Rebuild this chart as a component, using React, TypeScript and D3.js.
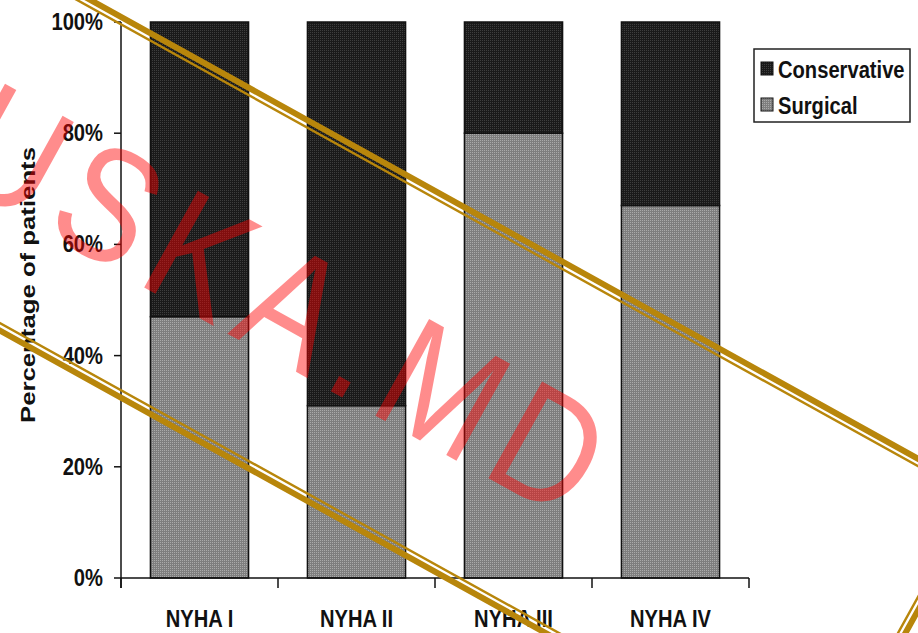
import React from "react";
import * as d3 from "d3";

const categories = ["NYHA I", "NYHA II", "NYHA III", "NYHA IV"];
const surgical = [47, 31, 80, 67];
const conservative = [53, 69, 20, 33];
const yTicks = [0, 20, 40, 60, 80, 100];
const seriesKeys = ["Surgical", "Conservative"];
const legendLabels = ["Conservative", "Surgical"];

const W = 918;
const H = 633;
const M = { left: 121, right: 749, top: 22, bottom: 578 };

export default function App() {
  const rows = categories.map((c, i) => ({ cat: c, Surgical: surgical[i], Conservative: conservative[i] }));
  const stack = d3.stack<any>().keys(seriesKeys)(rows);
  const x = d3.scaleBand<string>().domain(categories).range([M.left, M.right]).paddingInner(0.375).paddingOuter(0.1875);
  const y = d3.scaleLinear().domain([0, 100]).range([M.bottom, M.top]);
  const fills: Record<string, string> = { Surgical: "url(#patS)", Conservative: "url(#patC)" };
  const step = x.step();
  const boundaries = d3.range(categories.length + 1).map((i) => M.left + i * step);
  const font = "'Liberation Sans', Arial, Helvetica, sans-serif";
  const gold = "#b8860b";

  return (
    <svg width={W} height={H} style={{ position: "absolute", left: 0, top: 0, background: "#fff" }} fontFamily={font}>
      <defs>
        <pattern id="patC" width={2} height={2} patternUnits="userSpaceOnUse">
          <rect width={2} height={2} fill="#1a1a1a" />
          <rect width={1} height={1} fill="#3e3e3e" />
        </pattern>
        <pattern id="patS" width={2} height={2} patternUnits="userSpaceOnUse">
          <rect width={2} height={2} fill="#7e7e7e" />
          <rect width={1} height={1} fill="#aaaaaa" />
        </pattern>
      </defs>
      <rect width={W} height={H} fill="#fff" />

      {/* bars */}
      {stack.map((s) => (
        <g key={s.key}>
          {s.map((d, i) => (
            <rect
              key={i}
              x={x(categories[i])}
              y={y(d[1])}
              width={x.bandwidth()}
              height={y(d[0]) - y(d[1])}
              fill={fills[s.key]}
              stroke="#111"
              strokeWidth={1.5}
            />
          ))}
        </g>
      ))}

      {/* y axis */}
      <line x1={M.left} x2={M.left} y1={M.top} y2={M.bottom + 10} stroke="#111" strokeWidth={1.5} />
      {yTicks.map((t) => (
        <g key={t}>
          <line x1={M.left - 7} x2={M.left} y1={y(t)} y2={y(t)} stroke="#111" strokeWidth={1.5} />
          <text
            transform={`translate(103,${y(t) + 8}) scale(0.84,1)`}
            textAnchor="end"
            fontSize={24}
            fontWeight="bold"
            fill="#111"
          >
            {t}%
          </text>
        </g>
      ))}

      {/* x axis */}
      <line x1={M.left} x2={M.right} y1={M.bottom} y2={M.bottom} stroke="#111" strokeWidth={1.5} />
      {boundaries.map((b, i) => (
        <line key={i} x1={b} x2={b} y1={M.bottom} y2={M.bottom + 10} stroke="#111" strokeWidth={1.5} />
      ))}
      {categories.map((c) => (
        <text
          key={c}
          transform={`translate(${(x(c) as number) + x.bandwidth() / 2},627) scale(0.84,1)`}
          textAnchor="middle"
          fontSize={24}
          fontWeight="bold"
          fill="#111"
        >
          {c}
        </text>
      ))}

      {/* y title */}
      <text
        transform="translate(35,285) rotate(-90)"
        textAnchor="middle"
        fontSize={21}
        fontWeight="bold"
        fill="#111"
        textLength={276}
        lengthAdjust="spacingAndGlyphs"
      >
        Percentage of patients
      </text>

      {/* legend */}
      <rect x={754} y={49} width={156} height={73} fill="#fff" stroke="#222" strokeWidth={1.5} />
      {legendLabels.map((l, i) => (
        <g key={l}>
          <rect x={761} y={62 + i * 36} width={12} height={13} fill={fills[l]} stroke="#111" strokeWidth={1} />
          <text transform={`translate(778,${78 + i * 36}) scale(0.84,1)`} fontSize={24} fontWeight="bold" fill="#111">
            {l}
          </text>
        </g>
      ))}

      {/* watermark */}
      <g transform="translate(288,301) rotate(29)">
        <text
          transform="scale(0.86,1)"
          x={0}
          y={0}
          dy="0.36em"
          textAnchor="middle"
          fontSize={161}
          letterSpacing={16}
          fontFamily="'Liberation Sans', Arial, sans-serif"
          fill="rgba(255,0,0,0.45)"
        >
          USKA.MD
        </text>
        <rect x={-701} y={-167.5} width={1402} height={333} fill="none" stroke={gold} strokeWidth={6} />
        <rect x={-694.5} y={-161} width={1389} height={320} fill="none" stroke={gold} strokeWidth={2.4} />
      </g>
    </svg>
  );
}
